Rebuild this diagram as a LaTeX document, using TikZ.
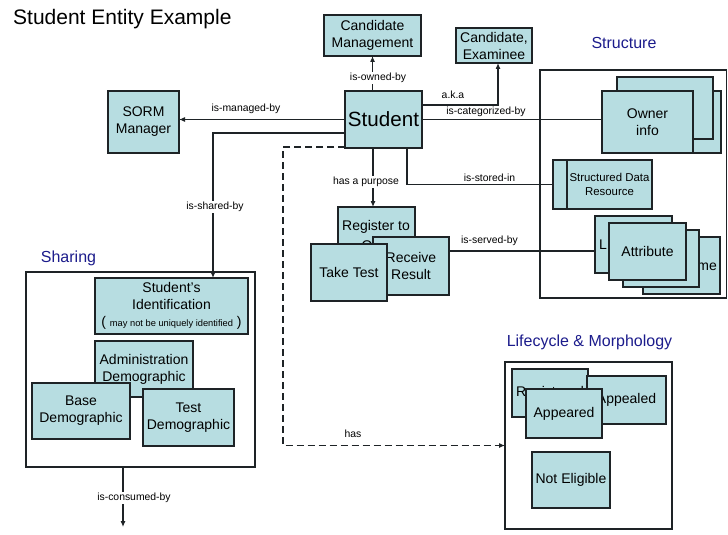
\documentclass[tikz,border=0pt]{standalone}
\usepackage{fontspec}
\setmainfont{Liberation Sans}
\usetikzlibrary{arrows.meta}
\definecolor{boxfill}{RGB}{183,221,225}
\definecolor{boxline}{RGB}{30,35,38}
\definecolor{navy}{RGB}{28,28,140}
\newcommand{\fsz}[2]{\fontsize{#1}{#2}\selectfont}
\begin{document}
\begin{tikzpicture}[x=1pt,y=-1pt,
 box/.style={draw=boxline, fill=boxfill, line width=1.2pt, inner sep=0pt, outer sep=0pt, align=center, font=\fsz{14}{17}},
 frame/.style={draw=boxline, line width=1.3pt, inner sep=0pt, outer sep=0pt},
 conn/.style={draw=boxline, line width=1.1pt},
 arr/.style={conn, -{Latex[length=6pt,width=5pt]}},
 dasharr/.style={arr, dash pattern=on 7pt off 4pt},
 lbl/.style={font=\fsz{10.4}{12}, inner sep=1.5pt, text=black},
 lblw/.style={lbl, fill=white},
 sect/.style={font=\fsz{16}{18}, text=navy, inner sep=0pt},
 plain/.style={inner sep=0pt, font=\fsz{14}{17}},
]
\useasboundingbox (0,0) rectangle (728,535);
\fill[white] (0,0) rectangle (728,535);

% title and section labels
\node[anchor=base west, inner sep=0pt, font=\fsz{21}{24}] (title) at (13,25) {Student Entity Example};
\node[sect] (lstruct) at (624,43) {Structure};
\node[sect] (lshare) at (68.5,258) {Sharing};
\node[sect] (llife) at (589.5,342) {Lifecycle \& Morphology};

% frames
\node[frame, minimum width=186.5pt, minimum height=228pt] (stf) at (633.25,184) {};
\node[frame, minimum width=229pt, minimum height=195pt] (shf) at (140.5,369.5) {};
\node[frame, minimum width=167pt, minimum height=167pt] (lcf) at (588.5,445.5) {};

% top boxes
\node[box, minimum width=97pt, minimum height=41pt] (cm) at (372.5,35.5) {Candidate\\Management};
\node[box, minimum width=76pt, minimum height=35pt] (ce) at (494,45.5) {Candidate,\\Examinee};
\node[box, minimum width=71pt, minimum height=62pt] (sorm) at (143.5,122) {SORM\\Manager};
\node[box, minimum width=77pt, minimum height=57pt, font=\fsz{20.6}{22}] (stu) at (383.5,119.5) {Student};

% structure stack
\node[box, minimum width=98pt, minimum height=62pt] (ownb) at (672,122) {};
\node[box, minimum width=96pt, minimum height=62pt] (owna) at (665,108) {};
\node[box, minimum width=91pt, minimum height=62pt] (ownf) at (647.5,122) {Owner\\info};
\node[box, minimum width=99pt, minimum height=49pt] (sdr) at (602.5,184.5) {};
\draw[line width=1.2pt, draw=boxline] ([xshift=14pt]sdr.north west) -- ([xshift=14pt]sdr.south west);
\node[plain, align=center, font=\fsz{11.4}{14}] (sdrt) at (609.5,184.5) {Structured Data\\Resource};

\node[box, minimum width=77pt, minimum height=57pt] (lbox) at (633.5,244.5) {};
\node[plain, anchor=west] (lboxt) at (599,245) {L};
\node[box, minimum width=77pt, minimum height=57pt] (mebox) at (681.5,265.5) {};
\node[plain, anchor=east] (meboxt) at (717,267) {me};
\node[box, minimum width=76pt, minimum height=57pt] (midbox) at (661,258.5) {};
\node[box, minimum width=77pt, minimum height=57pt] (attr) at (647.5,251.5) {Attribute};

% purpose stack
\node[box, minimum width=77pt, minimum height=58pt] (reg) at (376.5,236) {};
\node[plain] (regt) at (376,227) {Register to};
\node[plain] (rego) at (367,245.5) {O};
\node[box, minimum width=76pt, minimum height=58pt] (rr) at (411,266) {};
\node[plain, align=center] (rrt) at (411,266) {Receive\\Result};
\node[box, minimum width=76pt, minimum height=57pt] (tt) at (349,272.5) {Take Test};

% sharing boxes
\node[box, minimum width=153pt, minimum height=56pt] (si) at (171.5,306) {Student’s\\Identification\\( {\fsz{9.3}{17}may not be uniquely identified} )};
\node[box, minimum width=98pt, minimum height=56pt] (ad) at (144,369) {Administration\\Demographic};
\node[box, minimum width=98pt, minimum height=56pt] (bd) at (81,411) {Base\\Demographic};
\node[box, minimum width=91pt, minimum height=57pt] (td) at (188.5,417.5) {Test\\Demographic};

% lifecycle boxes
\node[box, minimum width=76pt, minimum height=48pt] (regd) at (550,393) {Registered};
\node[box, minimum width=79pt, minimum height=48pt] (appl) at (626.5,400) {Appealed};
\node[box, minimum width=76pt, minimum height=49pt] (appr) at (564,413.5) {Appeared};
\node[box, minimum width=78pt, minimum height=56pt] (ne) at (571,480) {Not Eligible};

% connectors
\draw[arr] (stu.north -| cm.south) -- (cm.south);
\draw[arr] ([yshift=14.5pt]stu.east) -| ([xshift=4pt]ce.south);
\draw[conn] (stu.east) -- (stu.east -| ownf.west);
\draw[conn] ([xshift=23.5pt]stu.south) |- (sdr.west);
\draw[arr] ([xshift=-10.5pt]stu.south) -- ([xshift=-10.5pt]stu.south |- reg.north);
\draw[conn] ([yshift=15pt]rr.east) -- ([yshift=15pt]rr.east -| lbox.west);
\draw[arr] (stu.west) -- (stu.west -| sorm.east);
\draw[arr] ([yshift=-13.5pt]stu.west) -| ([xshift=41.5pt]si.north);
\coordinate (hbend) at (283,147);
\draw[dasharr] (stu.west |- hbend) -- (hbend) |- (lcf.west);
\coordinate (cons) at (123,527);
\draw[arr] (shf.south -| cons) -- (cons);

% connector labels
\node[lblw] (l1) at (378,78) {is-owned-by};
\node[lbl] (l2) at (453,95) {a.k.a};
\node[lbl] (l3) at (486,112) {is-categorized-by};
\node[lbl] (l4) at (246,109) {is-managed-by};
\node[lblw] (l5) at (215,207) {is-shared-by};
\node[lblw] (l6) at (366,182) {has a purpose};
\node[lbl] (l7) at (489.5,178) {is-stored-in};
\node[lbl] (l8) at (489.5,241) {is-served-by};
\node[lbl] (l9) at (353,434) {has};
\node[lblw] (l10) at (134,498) {is-consumed-by};
\end{tikzpicture}
\end{document}
